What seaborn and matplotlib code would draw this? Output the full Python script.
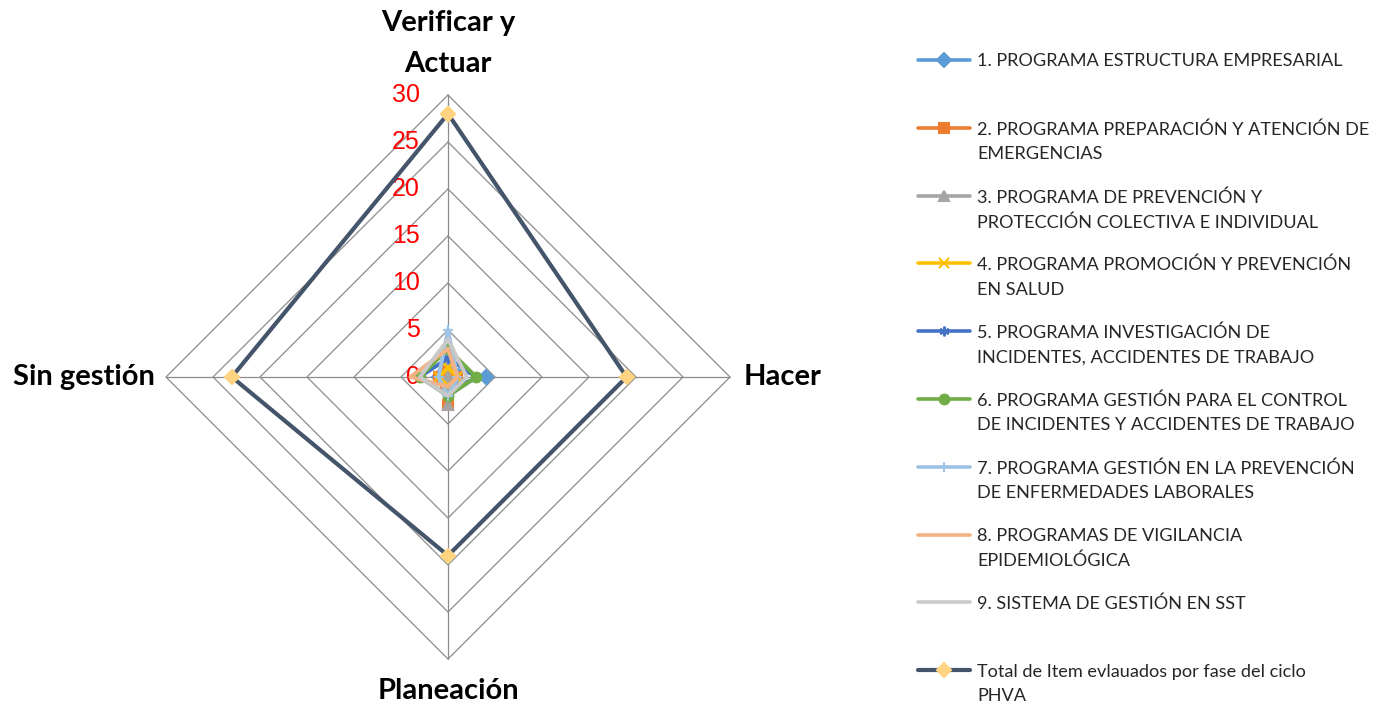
import numpy as np
import pandas as pd
import matplotlib
matplotlib.use("Agg")
import matplotlib.pyplot as plt
from matplotlib.lines import Line2D
import seaborn as sns

# fases del ciclo PHVA (sentido horario desde arriba)
categorias = ["Verificar y\nActuar", "Hacer", "Planeación", "Sin gestión"]

programas = [
    "1. PROGRAMA ESTRUCTURA EMPRESARIAL",
    "2. PROGRAMA PREPARACIÓN Y ATENCIÓN DE\nEMERGENCIAS",
    "3. PROGRAMA DE PREVENCIÓN Y\nPROTECCIÓN COLECTIVA E INDIVIDUAL",
    "4. PROGRAMA PROMOCIÓN Y PREVENCIÓN\nEN SALUD",
    "5. PROGRAMA INVESTIGACIÓN DE\nINCIDENTES, ACCIDENTES DE TRABAJO",
    "6. PROGRAMA GESTIÓN PARA EL CONTROL\nDE INCIDENTES Y ACCIDENTES DE TRABAJO",
    "7. PROGRAMA GESTIÓN EN LA PREVENCIÓN\nDE ENFERMEDADES LABORALES",
    "8. PROGRAMAS DE VIGILANCIA\nEPIDEMIOLÓGICA",
    "9. SISTEMA DE GESTIÓN EN SST",
    "Total de Item evlauados por fase del ciclo\nPHVA",
]

# valores por fase: [Verificar y Actuar, Hacer, Planeación, Sin gestión]
prog1 = [1, 4, 1, 1]
prog2 = [1, 1, 3, 1]
prog3 = [2, 1, 3, 0]
prog4 = [1, 1, 1, 1]
prog5 = [2, 3, 2, 3]
prog6 = [3, 3, 2, 3]
prog7 = [5, 1, 2, 1]
prog8 = [3, 1, 1, 4]
prog9 = [4, 2, 2, 3]
total = [28, 19, 19, 23]

valores = [prog1, prog2, prog3, prog4, prog5, prog6, prog7, prog8, prog9, total]
ticks = [0, 5, 10, 15, 20, 25, 30]

colores = ["#5B9BD5", "#ED7D31", "#A5A5A5", "#FFC000", "#4472C4",
           "#70AD47", "#9DC3E6", "#F4B183", "#C9C9C9", "#44546A"]
marcadores = ["D", "s", "^", "x", (6, 2, 0), "o", "+", None, None, "D"]

sns.set_theme(style="white")
plt.rcParams["font.family"] = ["Lato", "DejaVu Sans"]

angulos = np.linspace(0, 2 * np.pi, len(categorias), endpoint=False)


def to_xy(vals):
    r = np.append(vals, vals[0])
    th = np.append(angulos, angulos[0])
    return r * np.sin(th), r * np.cos(th)


fig = plt.figure(figsize=(13.87, 7.06), dpi=100)
W, H = 1387, 706
cx, cy, escala = 448, 377, 9.4
lim = 32
ax = fig.add_axes([(cx - lim * escala) / W, (H - cy - lim * escala) / H,
                   2 * lim * escala / W, 2 * lim * escala / H])
ax.set_xlim(-lim, lim)
ax.set_ylim(-lim, lim)
ax.axis("off")

# rejilla en rombos
for t in ticks[1:]:
    gx, gy = to_xy([t] * len(categorias))
    ax.plot(gx, gy, color="#8C8C8C", lw=0.9, zorder=1)
for a in angulos:
    ax.plot([0, 30 * np.sin(a)], [0, 30 * np.cos(a)], color="#8C8C8C", lw=0.9, zorder=1)

for t in ticks:
    ax.text(-3.0, t, str(t), color="red", fontsize=18, ha="right", va="center",
            family=["Liberation Sans", "DejaVu Sans"])

# series
for i, (vals, nombre) in enumerate(zip(valores, programas)):
    x, y = to_xy(vals)
    df = pd.DataFrame({"x": x, "y": y})
    es_total = i == len(valores) - 1
    sns.lineplot(data=df, x="x", y="y", sort=False, estimator=None, ax=ax,
                 color=colores[i], lw=3.0 if es_total else 2.8,
                 marker=marcadores[i], markersize=7,
                 markerfacecolor="#FFD37F" if es_total else colores[i],
                 markeredgecolor="#FFD37F" if es_total else colores[i],
                 markeredgewidth=1.5, zorder=3 + i, legend=False)

# etiquetas de las fases
kw = dict(fontsize=21, fontweight="bold", color="black")
ax.text(0, 35.5, categorias[0], ha="center", va="center", linespacing=1.7, **kw)
ax.text(31.4, 0, categorias[1], ha="left", va="center", **kw)
ax.text(0, -33.4, categorias[2], ha="center", va="center", **kw)
ax.text(-31.2, 0, categorias[3], ha="right", va="center", **kw)

# leyenda estilo Excel
y0, paso = 60, 67.8
for i, nombre in enumerate(programas):
    yy = 1 - (y0 + i * paso) / H
    es_total = i == len(programas) - 1
    fig.add_artist(Line2D([918 / W, 970 / W], [yy, yy], transform=fig.transFigure,
                          color=colores[i], lw=3.0 if es_total else 2.6))
    if marcadores[i] is not None:
        fc = "#FFD37F" if es_total else colores[i]
        fig.add_artist(Line2D([944 / W], [yy], transform=fig.transFigure,
                              marker=marcadores[i], markersize=7,
                              color=fc, markeredgecolor=fc, markeredgewidth=1.5, lw=0))
    fig.text(977 / W, yy + 6.5 / H, nombre, ha="left", va="top", fontsize=13.1,
             color="#262626", linespacing=1.65)

fig.savefig("out.png", dpi=100)
